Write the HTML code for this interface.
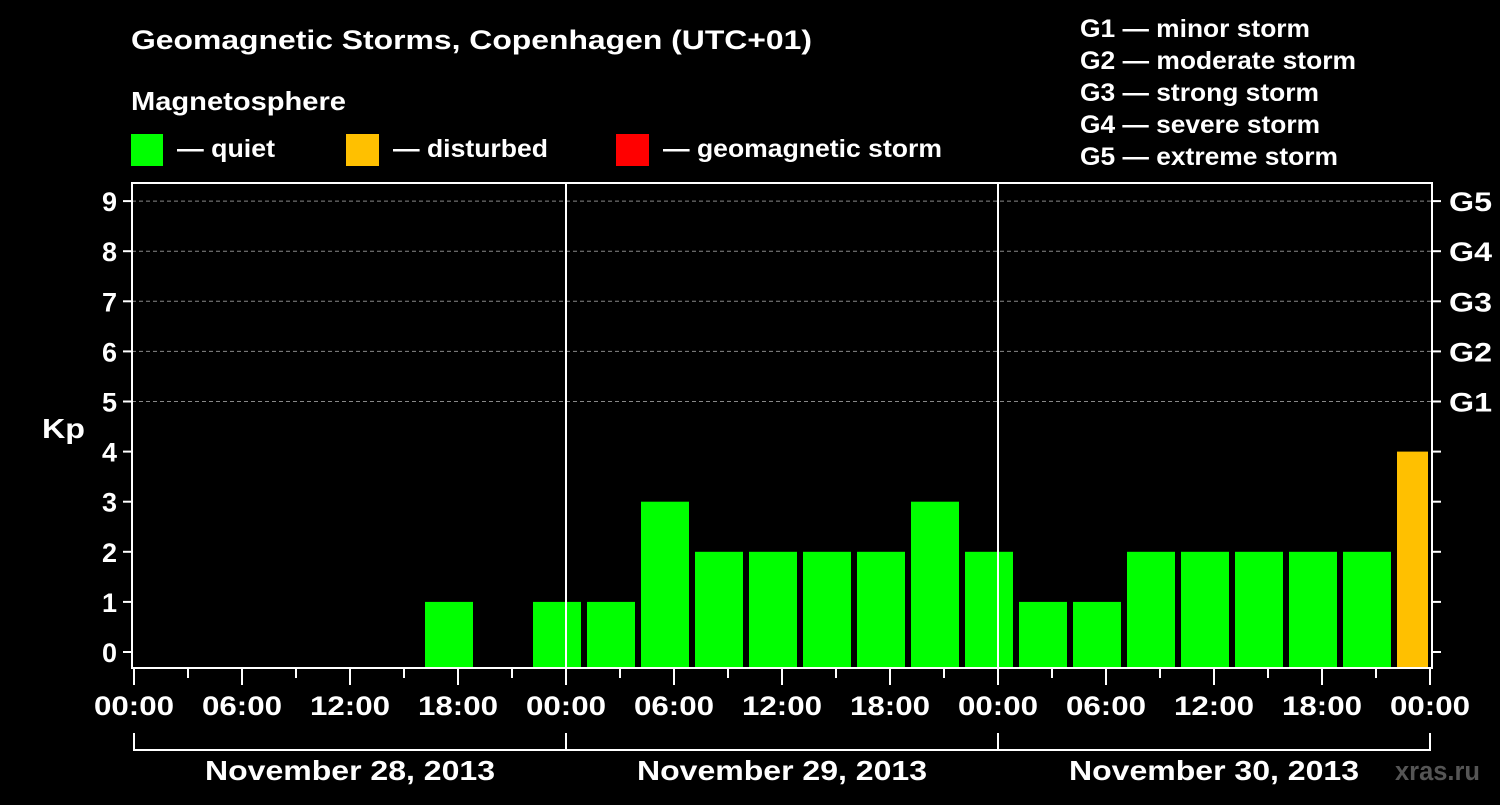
<!DOCTYPE html>
<html><head><meta charset="utf-8"><style>
body{margin:0;background:#000;width:1500px;height:800px;overflow:hidden}
svg text{font-family:"Liberation Sans",Arial,sans-serif;font-weight:bold;fill:#fff}
</style></head><body>
<svg id="chart" width="1500" height="800" xmlns="http://www.w3.org/2000/svg">
<text x="131" y="49" font-size="27" textLength="681" lengthAdjust="spacingAndGlyphs">Geomagnetic Storms, Copenhagen (UTC+01)</text>
<text x="131" y="110" font-size="26" textLength="215" lengthAdjust="spacingAndGlyphs">Magnetosphere</text>
<g><rect x="131" y="134" width="32" height="32" fill="#00ff00"/><text x="177" y="157" font-size="25" textLength="98" lengthAdjust="spacingAndGlyphs">— quiet</text></g>
<g><rect x="346" y="134" width="33" height="32" fill="#ffc000"/><text x="393" y="157" font-size="25" textLength="155" lengthAdjust="spacingAndGlyphs">— disturbed</text></g>
<g><rect x="616" y="134" width="33" height="32" fill="#ff0000"/><text x="663" y="157" font-size="25" textLength="279" lengthAdjust="spacingAndGlyphs">— geomagnetic storm</text></g>
<g font-size="25">
<text x="1080" y="37" textLength="230" lengthAdjust="spacingAndGlyphs">G1 — minor storm</text>
<text x="1080" y="69" textLength="276" lengthAdjust="spacingAndGlyphs">G2 — moderate storm</text>
<text x="1080" y="101" textLength="239" lengthAdjust="spacingAndGlyphs">G3 — strong storm</text>
<text x="1080" y="133" textLength="240" lengthAdjust="spacingAndGlyphs">G4 — severe storm</text>
<text x="1080" y="165" textLength="258" lengthAdjust="spacingAndGlyphs">G5 — extreme storm</text>
</g>
<text x="42" y="438" font-size="28" textLength="43" lengthAdjust="spacingAndGlyphs">Kp</text>
<g id="grid"></g><g id="bars"></g><g id="axes"></g>
<text x="1395" y="780" font-size="27" textLength="85" lengthAdjust="spacingAndGlyphs" style="fill:#555">xras.ru</text>
</svg>
<script>
const hours = [2.5,5.5,8.5,11.5,14.5,17.5,20.5,23.5,26.5,29.5,32.5,35.5,38.5,41.5,44.5,47.5,50.5,53.5,56.5,59.5,62.5,65.5,68.5,71.5];
const kp = [null,null,null,null,null,1,null,1,1,3,2,2,2,2,3,2,1,1,2,2,2,2,2,4];
const xTickLabels = ["00:00","06:00","12:00","18:00","00:00","06:00","12:00","18:00","00:00","06:00","12:00","18:00","00:00"];
const dayLabels = ["November 28, 2013","November 29, 2013","November 30, 2013"];
const gLabels = ["G1","G2","G3","G4","G5"];
const NS="http://www.w3.org/2000/svg";
const X0=134, PX=18, L=132, R=1432, T=183, B=668;
const x = h => X0 + h*PX;
const y = v => 652 - v*50.1;
function mk(tag, attrs, parent){const e=document.createElementNS(NS,tag);for(const k in attrs)e.setAttribute(k,attrs[k]);parent.appendChild(e);return e;}
const grid=document.getElementById('grid'), bars=document.getElementById('bars'), axes=document.getElementById('axes');
for(let v=5;v<=9;v++){
  const l=mk('line',{x1:L,x2:R,y1:y(v),y2:y(v),stroke:'#888','stroke-dasharray':'4,3','stroke-width':1},grid);
  
  
}
mk('clipPath',{id:'pc'},bars).appendChild(document.createElementNS(NS,'rect'));
const cr=bars.querySelector('rect');cr.setAttribute('x',L);cr.setAttribute('y',T);cr.setAttribute('width',R-L-4);cr.setAttribute('height',B-T);
hours.forEach((h,i)=>{
  const v=kp[i]; if(v===null) return;
  const col=v>=5?'#ff0000':(v>=4?'#ffc000':'#00ff00');
  const r=mk('rect',{x:x(h)-24,y:y(v),width:48,height:B-y(v),fill:col,'clip-path':'url(#pc)'},bars);
  
  
});
[24,48].forEach(h=>{const l=mk('line',{x1:x(h),x2:x(h),y1:T,y2:B,stroke:'#fff','stroke-width':2},axes);

});
const frame=mk('rect',{x:L,y:T,width:R-L,height:B-T,fill:'none',stroke:'#fff','stroke-width':2},axes);


for(let v=0;v<=9;v++){
  mk('line',{x1:L-9,x2:L,y1:y(v),y2:y(v),stroke:'#fff','stroke-width':2},axes);
  mk('line',{x1:R,x2:R+9,y1:y(v),y2:y(v),stroke:'#fff','stroke-width':2},axes);
  const t=mk('text',{x:L-15,y:y(v)+10,'font-size':27,'text-anchor':'end'},axes);t.textContent=v;
  
  
}
gLabels.forEach((g,i)=>{const t=mk('text',{x:R+17,y:y(5+i)+10,'font-size':27,textLength:43,lengthAdjust:'spacingAndGlyphs'},axes);t.textContent=g;

});
for(let h=0;h<=72;h+=3){
  const major=h%6===0;
  mk('line',{x1:x(h),x2:x(h),y1:B,y2:major?685:678,stroke:'#fff','stroke-width':2},axes);
}
xTickLabels.forEach((s,i)=>{const t=mk('text',{x:x(i*6)-40,y:715,'font-size':27,textLength:80,lengthAdjust:'spacingAndGlyphs'},axes);t.textContent=s;

});
mk('path',{d:`M${x(0)} 733V750H${x(72)}V733M${x(24)} 733V750M${x(48)} 733V750`,fill:'none',stroke:'#fff','stroke-width':2},axes);
dayLabels.forEach((s,i)=>{const t=mk('text',{x:x(i*24+12)-145,y:780,'font-size':28,textLength:290,lengthAdjust:'spacingAndGlyphs'},axes);t.textContent=s;

});
</script>
</body></html>
